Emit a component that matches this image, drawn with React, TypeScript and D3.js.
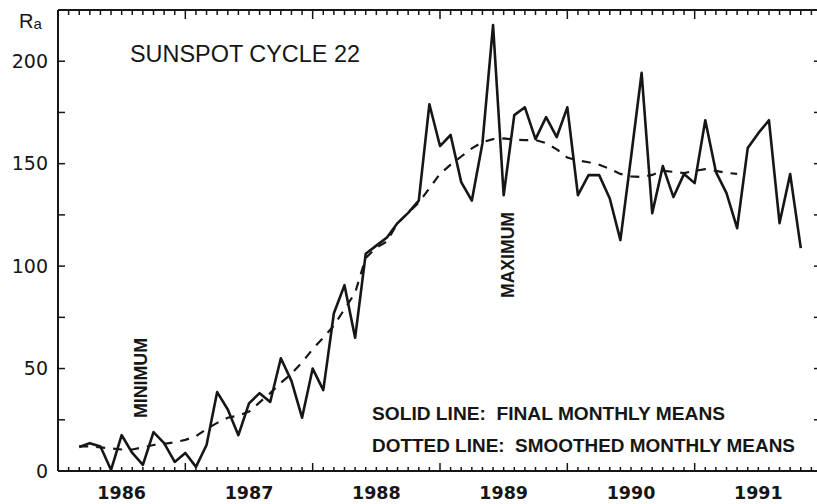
import * as d3 from 'd3'
import { useRef, useEffect } from 'react'

const width = 817
const height = 504

// x axis runs over whole years, data is monthly starting March 1986
const yearStart = 1986
const yearEnd = 1992
const firstMonth = 1986 + 2 / 12
const yearLabels = [1986, 1987, 1988, 1989, 1990, 1991]
const yLabelValues = [0, 50, 100, 150, 200]
const yTickValues = [0, 25, 50, 75, 100, 125, 150, 175, 200]

// final monthly means (solid)
const monthlyMeans = [
  11.7, 13.6, 12, 0.5, 17.5, 8.8, 3, 19, 13.6, 4.4, 8.8, 2,
  12.7, 38.5, 30, 17.5, 33, 38, 33.7, 55, 44, 26, 50, 39.5,
  77, 90.7, 65, 106, 110, 114, 121, 126, 132, 179, 158.6, 164,
  141, 132, 160, 217.6, 134.6, 173.7, 177.5, 162, 172.7, 163, 177.5, 134.6,
  144.4, 144.4, 133, 112.7, 153, 194.3, 125.8, 148.8, 133.7, 145, 140.5, 171.2,
  146, 135.6, 118.5, 157.6, 164.9, 171.2, 121, 144.9, 108.8,
]

// smoothed monthly means (dashed)
const smoothedMeans = [
  12, 12, 11.5, 11, 10.5, 10.5, 11.5, 12.7, 13.2, 14, 15.2, 17,
  20.5, 23.5, 26, 27, 29, 33.5, 38, 43, 47.5, 53, 59.5, 65,
  71, 79, 87, 104, 109, 112, 121, 126, 131, 138, 145, 149.5,
  153.5, 157.5, 160.5, 162, 162.3, 161.8, 161.5, 161.5, 160, 157, 153, 151.5,
  150.7, 149.5, 147.5, 145, 143.8, 143.5, 144.5, 146.5, 146, 145.4, 146.5, 147.3,
  146.5, 145.5, 145,
]

export default function App() {
  const svgRef = useRef<SVGSVGElement>(null)

  useEffect(() => {
    const svg = d3.select(svgRef.current)
    svg.selectAll('*').remove()

    const ink = '#161616'
    const x = d3.scaleLinear().domain([yearStart, yearEnd]).range([58, 822])
    const y = d3.scaleLinear().domain([0, 225]).range([471, 10])

    const monthX = (i: number) => x(firstMonth + i / 12)

    svg.append('rect').attr('width', width).attr('height', height).attr('fill', '#fff')

    // frame
    const frame = svg.append('g').attr('stroke', ink).attr('fill', 'none')
    frame.append('line').attr('x1', x(yearStart)).attr('x2', x(yearEnd)).attr('y1', y(0)).attr('y2', y(0)).attr('stroke-width', 2)
    frame.append('line').attr('x1', x(yearStart)).attr('x2', x(yearEnd)).attr('y1', y(225)).attr('y2', y(225)).attr('stroke-width', 2)
    frame.append('line').attr('x1', x(yearStart)).attr('x2', x(yearStart)).attr('y1', y(0)).attr('y2', y(225)).attr('stroke-width', 2)
    frame.append('line').attr('x1', x(yearEnd)).attr('x2', x(yearEnd)).attr('y1', y(0)).attr('y2', y(225)).attr('stroke-width', 2)

    // monthly ticks top and bottom
    const months = d3.range(0, (yearEnd - yearStart) * 12 + 1).map(m => yearStart + m / 12)
    months.forEach((m, k) => {
      const major = k % 12 === 0
      frame.append('line')
        .attr('x1', x(m)).attr('x2', x(m))
        .attr('y1', y(0)).attr('y2', y(0) - (major ? 8 : 4))
        .attr('stroke-width', 1.5)
      frame.append('line')
        .attr('x1', x(m)).attr('x2', x(m))
        .attr('y1', y(225)).attr('y2', y(225) + (major ? 9 : 5))
        .attr('stroke-width', 1.5)
    })

    // y ticks, left and right
    yTickValues.forEach(v => {
      frame.append('line').attr('x1', x(yearStart)).attr('x2', x(yearStart) + 7)
        .attr('y1', y(v)).attr('y2', y(v)).attr('stroke-width', 1.5)
      frame.append('line').attr('x1', x(yearEnd)).attr('x2', x(yearEnd) - 8)
        .attr('y1', y(v)).attr('y2', y(v)).attr('stroke-width', 1.5)
    })

    // y labels
    svg.append('g')
      .selectAll('text')
      .data(yLabelValues)
      .join('text')
      .attr('x', 48)
      .attr('y', d => y(d) + 6.5)
      .attr('text-anchor', 'end')
      .attr('font-family', 'DejaVu Sans')
      .attr('font-size', 19)
      .attr('fill', ink)
      .text(d => d)

    // year labels, centred on each year
    svg.append('g')
      .selectAll('text')
      .data(yearLabels)
      .join('text')
      .attr('x', d => x(d + 0.5))
      .attr('y', 499)
      .attr('text-anchor', 'middle')
      .attr('font-family', 'DejaVu Sans')
      .attr('font-weight', 'bold')
      .attr('font-size', 17.5)
      .attr('fill', ink)
      .text(d => d)

    // R_a
    const ra = svg.append('text').attr('x', 19).attr('y', 28)
      .attr('font-family', 'Liberation Sans').attr('fill', ink)
    ra.append('tspan').attr('font-size', 20).text('R')
    ra.append('tspan').attr('font-size', 15).attr('dy', 1).text('a')

    // series
    const monthLine = d3.line<number>().x((_, i) => monthX(i)).y(d => y(d))
    svg.append('path')
      .datum(smoothedMeans)
      .attr('d', monthLine)
      .attr('fill', 'none')
      .attr('stroke', ink)
      .attr('stroke-width', 2.2)
      .attr('stroke-dasharray', '9,8')

    svg.append('path')
      .datum(monthlyMeans)
      .attr('d', monthLine)
      .attr('fill', 'none')
      .attr('stroke', ink)
      .attr('stroke-width', 2.6)
      .attr('stroke-linejoin', 'round')

    // annotations
    svg.append('text')
      .attr('x', 130).attr('y', 62)
      .attr('font-family', 'Liberation Sans')
      .attr('font-size', 23)
      .attr('textLength', 230)
      .attr('lengthAdjust', 'spacingAndGlyphs')
      .attr('fill', ink)
      .text('SUNSPOT CYCLE 22')

    const rotated = (label: string, cx: number, bottom: number, len: number) => {
      svg.append('text')
        .attr('transform', `translate(${cx + 6.5},${bottom}) rotate(-90)`)
        .attr('font-family', 'Liberation Sans')
        .attr('font-weight', 'bold')
        .attr('font-size', 18)
        .attr('textLength', len)
        .attr('lengthAdjust', 'spacingAndGlyphs')
        .attr('fill', ink)
        .text(label)
    }
    rotated('MINIMUM', 140, 418, 80)
    rotated('MAXIMUM', 507, 298, 86)

    const legend = [
      { text: 'SOLID LINE:  FINAL MONTHLY MEANS', y: 420, len: 353 },
      { text: 'DOTTED LINE:  SMOOTHED MONTHLY MEANS', y: 452, len: 423 },
    ]
    svg.append('g')
      .selectAll('text')
      .data(legend)
      .join('text')
      .attr('x', 372)
      .attr('y', d => d.y)
      .attr('font-family', 'Liberation Sans')
      .attr('font-weight', 'bold')
      .attr('font-size', 18.5)
      .attr('textLength', d => d.len)
      .attr('lengthAdjust', 'spacingAndGlyphs')
      .style('white-space', 'pre')
      .attr('fill', ink)
      .text(d => d.text)
  }, [])

  return (
    <svg ref={svgRef} width={width} height={height}
      style={{ position: 'absolute', left: 0, top: 0 }} />
  )
}
